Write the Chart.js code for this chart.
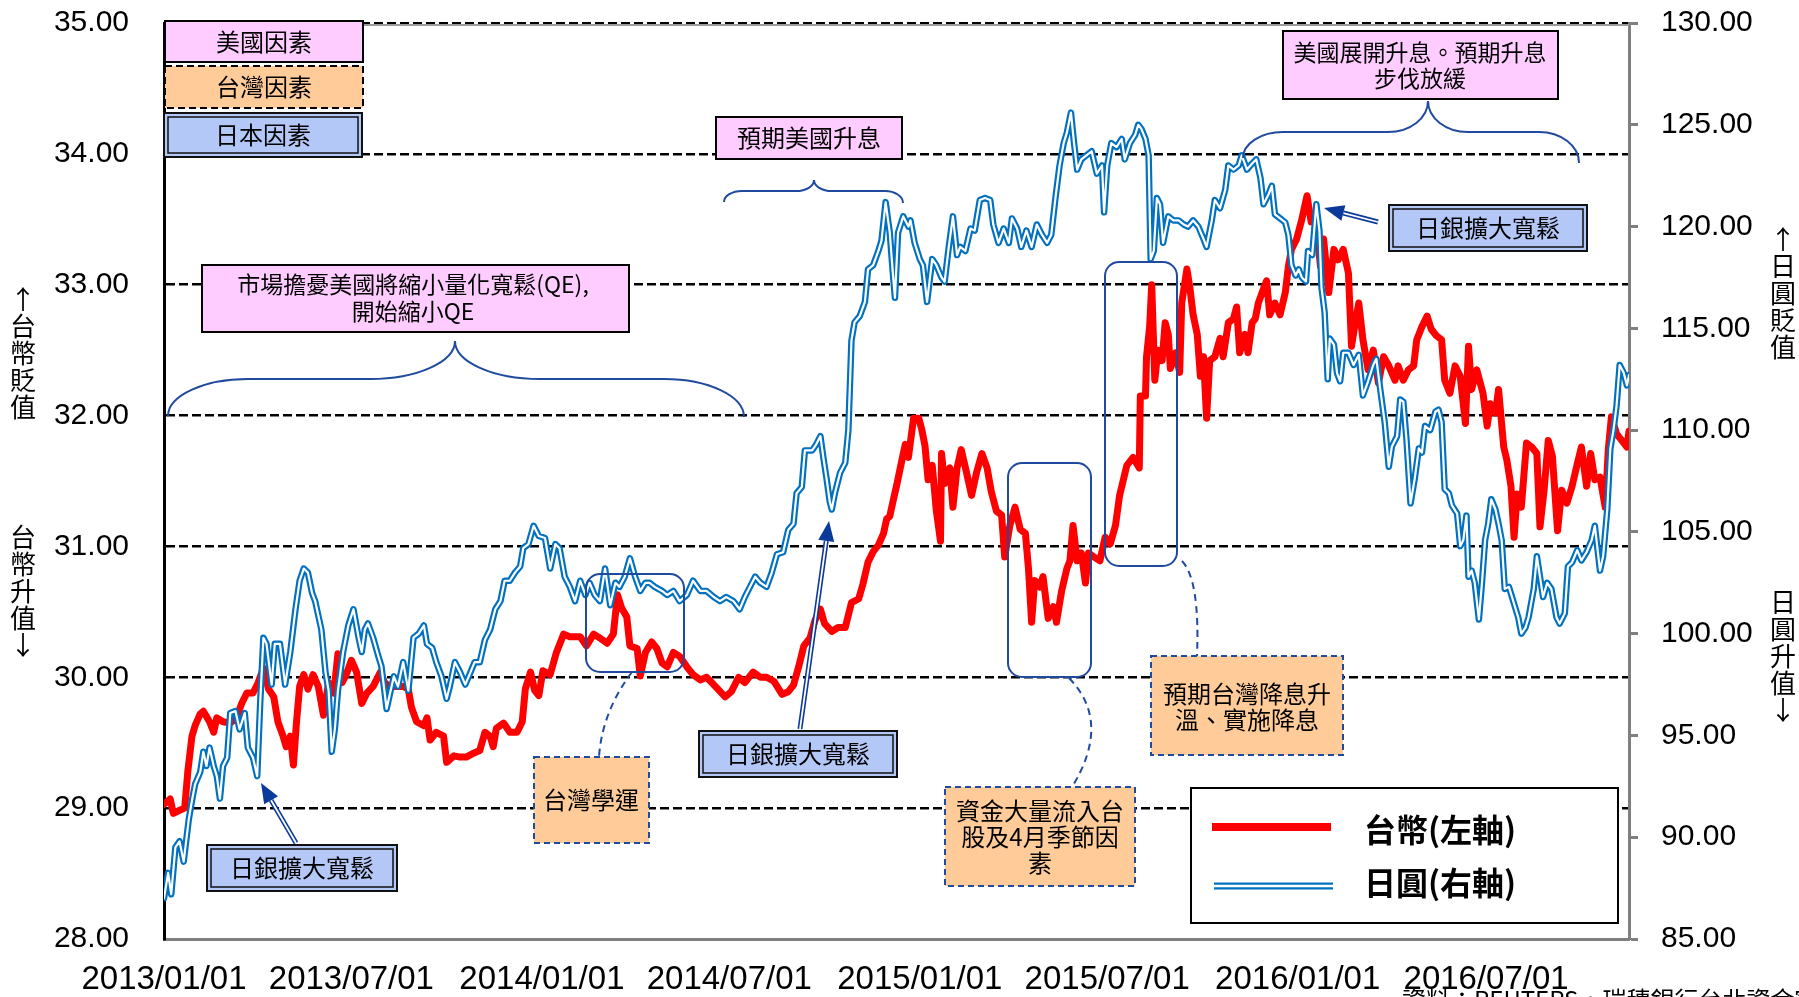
<!DOCTYPE html>
<html>
<head>
<meta charset="utf-8">
<title>台幣與日圓走勢</title>
<script src="https://cdn.jsdelivr.net/npm/chart.js@4.4.1/dist/chart.umd.min.js"></script>
<style>
  html, body { margin: 0; padding: 0; background: #fff; overflow: hidden; }
  canvas { display: block; }
</style>
</head>
<body>
<canvas id="fx" width="1799" height="997"></canvas>
<script>
// x values are days counted from 2013/01/01
const tickDates = ['2013/01/01', '2013/07/01', '2014/01/01', '2014/07/01',
                   '2015/01/01', '2015/07/01', '2016/01/01', '2016/07/01'];
const lastDay = 1415;

// 台幣 (left axis)
const twdDays = [
  0, 6, 9, 14, 20, 23, 27, 30, 35, 38,
  44, 48, 51, 57, 64, 70, 75, 80, 86, 91,
  96, 101, 106, 110, 115, 118, 122, 125, 128, 131,
  135, 139, 144, 149, 154, 159, 164, 168, 172, 176,
  181, 186, 191, 196, 202, 209, 213, 218, 225, 231,
  236, 239, 244, 251, 254, 257, 263, 270, 273, 280,
  286, 292, 299, 305, 310, 315, 318, 321, 328, 334,
  341, 346, 349, 354, 358, 362, 366, 373, 379, 386,
  392, 402, 408, 415, 421, 428, 434, 438, 442, 447,
  450, 457, 460, 465, 471, 476, 481, 486, 492, 498,
  505, 511, 518, 524, 529, 535, 542, 548, 555, 561,
  569, 576, 582, 589, 597, 603, 608, 613, 618, 624,
  629, 634, 638, 645, 651, 658, 664, 671, 675, 680,
  685, 690, 695, 698, 701, 704, 708, 713, 716, 719,
  724, 729, 732, 735, 738, 742, 746, 750, 751, 754,
  759, 762, 766, 770, 775, 780, 785, 790, 795, 799,
  804, 809, 812, 817, 822, 827, 832, 835, 838, 841,
  846, 849, 854, 859, 862, 867, 872, 875, 878, 882,
  886, 890, 893, 898, 904, 909, 914, 919, 923, 930,
  936, 942, 943, 948, 949, 952, 954, 957, 960, 964,
  967, 970, 972, 977, 981, 983, 988, 991, 994, 998,
  1001, 1004, 1007, 1010, 1015, 1020, 1023, 1028, 1033, 1036,
  1039, 1044, 1047, 1051, 1054, 1057, 1062, 1065, 1068, 1073,
  1078, 1083, 1086, 1089, 1094, 1099, 1104, 1108, 1112, 1117,
  1120, 1125, 1130, 1134, 1139, 1144, 1147, 1150, 1154, 1158,
  1163, 1168, 1173, 1178, 1183, 1189, 1192, 1197, 1202, 1207,
  1210, 1215, 1220, 1224, 1229, 1234, 1237, 1242, 1247, 1252,
  1257, 1260, 1263, 1268, 1274, 1278, 1281, 1286, 1289, 1294,
  1297, 1301, 1304, 1307, 1311, 1316, 1321, 1326, 1329, 1333,
  1337, 1341, 1346, 1350, 1355, 1360, 1365, 1369, 1374, 1378,
  1382, 1387, 1392, 1395, 1398, 1403, 1408, 1413, 1415
];
const twdRates = [
  29.03, 29.07, 28.96, 28.98, 29.00, 29.28, 29.55, 29.63, 29.72, 29.74,
  29.66, 29.58, 29.69, 29.66, 29.65, 29.69, 29.80, 29.88, 29.88, 29.96,
  30.07, 29.91, 29.85, 29.66, 29.55, 29.47, 29.55, 29.33, 29.66, 29.93,
  30.02, 29.91, 30.02, 29.93, 29.71, 29.96, 29.88, 30.18, 29.96, 30.02,
  30.13, 30.04, 29.80, 29.88, 29.93, 30.04, 29.96, 29.93, 29.93, 29.93,
  29.91, 29.77, 29.66, 29.63, 29.69, 29.52, 29.58, 29.55, 29.35, 29.40,
  29.39, 29.39, 29.42, 29.44, 29.58, 29.55, 29.47, 29.61, 29.65, 29.58,
  29.58, 29.66, 29.91, 30.04, 29.90, 29.86, 30.05, 30.02, 30.19, 30.33,
  30.31, 30.31, 30.24, 30.33, 30.30, 30.26, 30.33, 30.63, 30.53, 30.46,
  30.24, 30.22, 30.01, 30.19, 30.27, 30.22, 30.11, 30.08, 30.19, 30.16,
  30.08, 30.02, 29.98, 30.00, 29.96, 29.91, 29.85, 29.89, 30.00, 29.96,
  30.04, 30.00, 30.00, 29.97, 29.87, 29.89, 29.94, 30.08, 30.24, 30.30,
  30.44, 30.52, 30.41, 30.35, 30.38, 30.38, 30.57, 30.60, 30.71, 30.88,
  30.96, 31.01, 31.10, 31.21, 31.23, 31.34, 31.48, 31.67, 31.78, 31.68,
  31.98, 31.98, 31.89, 31.77, 31.51, 31.62, 31.27, 31.04, 31.71, 31.48,
  31.60, 31.30, 31.60, 31.74, 31.57, 31.39, 31.57, 31.71, 31.60, 31.42,
  31.27, 31.24, 30.92, 31.16, 31.30, 31.13, 31.10, 30.83, 30.42, 30.74,
  30.69, 30.77, 30.45, 30.54, 30.42, 30.66, 30.83, 30.89, 31.16, 30.89,
  30.95, 30.72, 30.95, 30.92, 30.89, 31.07, 31.02, 31.16, 31.39, 31.62,
  31.68, 31.60, 32.15, 32.15, 32.45, 32.68, 33.00, 32.27, 32.50, 32.42,
  32.71, 32.62, 32.36, 32.48, 32.33, 32.86, 33.12, 32.97, 32.77, 32.62,
  32.30, 32.45, 31.98, 32.42, 32.45, 32.59, 32.45, 32.71, 32.74, 32.83,
  32.48, 32.62, 32.48, 32.71, 32.74, 32.86, 32.97, 33.03, 32.77, 32.86,
  32.77, 32.94, 33.14, 33.27, 33.35, 33.50, 33.68, 33.48, 33.53, 33.14,
  33.35, 32.94, 33.27, 33.19, 33.27, 33.09, 32.53, 32.68, 32.86, 32.58,
  32.35, 32.50, 32.25, 32.45, 32.38, 32.27, 32.38, 32.27, 32.35, 32.38,
  32.58, 32.68, 32.76, 32.66, 32.61, 32.58, 32.27, 32.17, 32.38, 32.30,
  31.94, 32.53, 32.20, 32.35, 32.17, 31.92, 32.09, 32.02, 32.20, 31.76,
  31.66, 31.46, 31.07, 31.40, 31.30, 31.79, 31.76, 31.71, 31.15, 31.43,
  31.81, 31.69, 31.12, 31.43, 31.33, 31.46, 31.63, 31.76, 31.46, 31.71,
  31.51, 31.53, 31.30, 31.74, 31.99, 31.86, 31.81, 31.76, 31.88
];

// 日圓 (right axis)
const jpyDays = [
  0, 4, 7, 11, 15, 19, 24, 27, 30, 35,
  38, 41, 44, 48, 51, 54, 57, 61, 64, 69,
  73, 78, 81, 86, 90, 93, 96, 99, 104, 107,
  112, 117, 122, 127, 131, 135, 139, 143, 146, 149,
  152, 156, 159, 162, 165, 168, 173, 178, 183, 188,
  191, 194, 197, 202, 207, 210, 215, 218, 222, 226,
  231, 236, 241, 246, 251, 254, 259, 263, 268, 273,
  276, 281, 286, 291, 296, 300, 305, 310, 315, 320,
  325, 329, 334, 339, 344, 347, 352, 357, 362, 368,
  373, 378, 382, 387, 392, 397, 402, 407, 411, 416,
  421, 426, 431, 436, 440, 445, 450, 455, 460, 465,
  469, 474, 481, 486, 492, 498, 505, 511, 518, 524,
  531, 537, 543, 550, 556, 561, 566, 571, 576, 582,
  587, 592, 598, 603, 608, 611, 616, 619, 626, 630,
  634, 637, 640, 643, 645, 648, 653, 658, 661, 664,
  667, 672, 677, 680, 685, 690, 693, 697, 701, 704,
  706, 709, 714, 719, 721, 725, 730, 733, 737, 742,
  746, 751, 754, 758, 762, 766, 769, 774, 779, 783,
  788, 793, 798, 801, 806, 811, 816, 819, 824, 828,
  833, 838, 843, 848, 853, 857, 861, 865, 869, 872,
  876, 879, 882, 886, 891, 896, 901, 906, 908, 911,
  915, 920, 925, 928, 933, 938, 941, 944, 948, 951,
  953, 956, 959, 962, 965, 970, 975, 980, 985, 989,
  994, 999, 1004, 1007, 1012, 1015, 1020, 1025, 1028, 1033,
  1038, 1041, 1046, 1051, 1055, 1059, 1062, 1067, 1070, 1073,
  1078, 1083, 1086, 1089, 1093, 1096, 1099, 1103, 1105, 1109,
  1113, 1116, 1118, 1121, 1124, 1126, 1130, 1133, 1136, 1139,
  1144, 1149, 1154, 1158, 1163, 1168, 1171, 1175, 1179, 1183,
  1186, 1191, 1194, 1197, 1200, 1204, 1208, 1212, 1215, 1218,
  1223, 1228, 1231, 1234, 1237, 1241, 1244, 1249, 1252, 1255,
  1258, 1260, 1263, 1266, 1270, 1273, 1276, 1279, 1282, 1286,
  1289, 1292, 1295, 1299, 1302, 1305, 1308, 1311, 1315, 1318,
  1323, 1326, 1329, 1332, 1336, 1340, 1345, 1348, 1353, 1356,
  1360, 1365, 1369, 1374, 1379, 1382, 1387, 1390, 1394, 1397,
  1400, 1403, 1406, 1410, 1413, 1415
];
const jpyRates = [
  87.0, 88.25, 87.2, 89.5, 89.8, 88.8, 90.9, 91.8, 92.6, 93.2,
  94.2, 93.5, 94.4, 93.5, 93.0, 91.9, 93.5, 93.9, 96.1, 96.2,
  95.3, 96.1, 94.4, 93.9, 93.0, 96.7, 99.8, 99.5, 97.5, 99.5,
  99.5, 97.5, 99.1, 101.2, 102.6, 103.2, 103.0, 102.0, 101.6, 100.9,
  100.2, 98.1, 97.2, 94.2, 95.3, 97.2, 99.1, 100.4, 101.2, 99.8,
  99.1, 100.2, 100.5, 99.8, 98.9, 98.4, 96.3, 97.0, 97.9, 97.4,
  98.6, 97.2, 99.8, 100.0, 100.4, 99.5, 99.3, 98.6, 97.9, 96.8,
  97.4, 98.6, 98.1, 97.5, 98.1, 98.6, 98.6, 99.7, 100.2, 101.2,
  101.6, 102.6, 102.6, 103.0, 103.3, 104.2, 104.4, 105.3, 104.8, 104.7,
  103.2, 104.4, 104.2, 102.8, 102.3, 101.6, 102.6, 101.9, 102.5, 101.9,
  101.6, 103.2, 101.4, 102.5, 102.3, 102.8, 103.7, 102.8, 102.1, 102.5,
  102.5, 102.3, 102.1, 101.9, 102.1, 101.6, 101.9, 102.6, 102.1, 102.1,
  101.8, 101.6, 101.8, 101.6, 101.2, 101.8, 102.3, 102.8, 102.5, 102.3,
  103.0, 103.9, 104.0, 105.1, 105.4, 106.9, 107.2, 109.0, 109.0, 109.3,
  109.7, 108.6, 107.6, 106.5, 106.1, 106.9, 107.9, 108.4, 110.0, 114.4,
  115.3, 115.6, 116.3, 117.9, 118.1, 118.8, 119.3, 121.2, 119.7, 117.7,
  116.5, 119.7, 120.5, 120.0, 120.3, 119.2, 118.4, 118.1, 116.3, 118.4,
  118.1, 117.5, 117.3, 119.0, 120.5, 118.6, 119.0, 118.8, 119.9, 119.8,
  121.3, 121.4, 121.3, 120.1, 119.2, 119.9, 119.2, 120.4, 119.9, 119.0,
  119.8, 119.0, 120.1, 119.6, 119.2, 119.6, 121.4, 123.0, 124.1, 124.6,
  125.6, 124.1, 122.8, 123.3, 123.5, 123.7, 122.6, 123.0, 120.7, 123.0,
  124.1, 123.9, 124.3, 123.3, 124.1, 124.5, 125.0, 124.8, 124.3, 123.5,
  118.4, 118.8, 121.4, 121.1, 119.2, 120.5, 120.3, 120.3, 120.1, 120.0,
  120.3, 120.0, 119.4, 119.0, 120.3, 121.3, 120.9, 121.8, 123.0, 122.8,
  123.0, 123.5, 122.8, 123.1, 123.3, 122.4, 121.1, 121.6, 122.0, 120.6,
  120.4, 120.2, 119.6, 118.1, 117.6, 117.9, 117.5, 117.3, 118.8, 118.6,
  121.1, 119.8, 117.0, 115.8, 112.5, 114.5, 114.2, 112.8, 112.4, 113.8,
  113.8, 113.2, 113.7, 111.7, 112.4, 113.2, 113.5, 111.9, 110.4, 108.2,
  109.2, 109.7, 111.5, 111.4, 109.6, 106.4, 107.6, 109.1, 108.9, 110.2,
  110.0, 110.9, 111.0, 110.4, 107.1, 106.9, 106.3, 105.9, 104.3, 104.6,
  105.8, 102.8, 103.1, 102.5, 100.7, 102.5, 104.6, 105.4, 106.6, 106.1,
  105.4, 104.6, 102.2, 102.3, 101.8, 101.3, 100.8, 100.0, 100.3, 100.8,
  102.2, 103.8, 102.8, 101.8, 102.5, 102.2, 100.8, 100.5, 101.0, 103.3,
  103.5, 104.1, 103.6, 104.0, 104.6, 105.3, 103.1, 103.8, 106.1, 109.1,
  110.0, 111.2, 113.2, 112.8, 112.2, 112.7
];

const CJK = '"Noto Sans CJK TC", "Noto Sans CJK JP", sans-serif';
const NUM = '"Liberation Sans", Arial, sans-serif';
const NAVY = '#1F4A9E';
const PINK = '#FFCCFF', ORANGE = '#FFCC99', LIGHTBLUE = '#B4C8F8';

function dayOf(s) {
  const [y, m, d] = s.split('/').map(Number);
  return Math.round((Date.UTC(y, m - 1, d) - Date.UTC(2013, 0, 1)) / 86400000);
}
const tickDays = tickDates.map(dayOf);

const twdPoints = twdDays.map((d, i) => ({ x: d, y: twdRates[i] }));
const jpyPoints = jpyDays.map((d, i) => ({ x: d, y: jpyRates[i] }));

// annotations are laid out in reference pixels of the plot frame
// (left 164, top 23, 1465 x 916) and mapped onto the real chart area
const annotations = {
  id: 'annotations',
  beforeDatasetsDraw(chart) {
    const { ctx, chartArea: a } = chart;
    ctx.save();
    ctx.strokeStyle = '#9a9a9a';
    ctx.lineWidth = 2;
    ctx.beginPath();
    ctx.moveTo(a.left, a.top + 2);
    ctx.lineTo(a.right, a.top + 2);
    ctx.stroke();
    ctx.restore();
  },
  afterDatasetsDraw(chart) {
    const { ctx, chartArea: a } = chart;
    const X = px => a.left + (px - 164) * a.width / 1465;
    const Y = py => a.top + (py - 23) * a.height / 916;

    function box(x1, y1, x2, y2, fill, kind) {
      const l = X(x1), t = Y(y1), w = X(x2) - l, h = Y(y2) - t;
      ctx.save();
      ctx.fillStyle = fill;
      ctx.fillRect(l, t, w, h);
      ctx.lineWidth = 2;
      if (kind === 'solid') {
        ctx.strokeStyle = '#000';
        ctx.strokeRect(l, t, w, h);
      } else if (kind === 'dashBlack') {
        ctx.setLineDash([7, 4]);
        ctx.strokeStyle = '#000';
        ctx.strokeRect(l, t, w, h);
      } else if (kind === 'dashBlue') {
        ctx.setLineDash([6, 4]);
        ctx.strokeStyle = NAVY;
        ctx.strokeRect(l, t, w, h);
      } else if (kind === 'double') {
        ctx.strokeStyle = '#111';
        ctx.strokeRect(l, t, w, h);
        ctx.lineWidth = 1.5;
        ctx.strokeRect(l + 4, t + 4, w - 8, h - 8);
      }
      ctx.restore();
    }

    function words(lines, cx, cy, size, lh, bold) {
      ctx.save();
      ctx.font = (bold ? 'bold ' : '') + size + 'px ' + CJK;
      ctx.fillStyle = '#000';
      ctx.textAlign = 'center';
      ctx.textBaseline = 'middle';
      lines.forEach((t, i) => ctx.fillText(t, X(cx), Y(cy + (i - (lines.length - 1) / 2) * lh)));
      ctx.restore();
    }

    function brace(x1, yL, x2, yR, yF, xt, yT, rE, rT) {
      const k = 0.552;
      ctx.save();
      ctx.strokeStyle = NAVY;
      ctx.lineWidth = 2;
      ctx.beginPath();
      ctx.moveTo(X(x1), Y(yL));
      ctx.bezierCurveTo(X(x1), Y(yL - (yL - yF) * k), X(x1 + rE * (1 - k)), Y(yF), X(x1 + rE), Y(yF));
      ctx.lineTo(X(xt - rT), Y(yF));
      ctx.bezierCurveTo(X(xt - rT * (1 - k)), Y(yF), X(xt), Y(yT + (yF - yT) * k), X(xt), Y(yT));
      ctx.bezierCurveTo(X(xt), Y(yT + (yF - yT) * k), X(xt + rT * (1 - k)), Y(yF), X(xt + rT), Y(yF));
      ctx.lineTo(X(x2 - rE), Y(yF));
      ctx.bezierCurveTo(X(x2 - rE * (1 - k)), Y(yF), X(x2), Y(yR - (yR - yF) * k), X(x2), Y(yR));
      ctx.stroke();
      ctx.restore();
    }

    function roundBox(x1, y1, x2, y2, r) {
      const l = X(x1), t = Y(y1), rr = X(x2), b = Y(y2);
      ctx.save();
      ctx.strokeStyle = NAVY;
      ctx.lineWidth = 2;
      ctx.beginPath();
      ctx.moveTo(l + r, t);
      ctx.arcTo(rr, t, rr, b, r);
      ctx.arcTo(rr, b, l, b, r);
      ctx.arcTo(l, b, l, t, r);
      ctx.arcTo(l, t, rr, t, r);
      ctx.closePath();
      ctx.stroke();
      ctx.restore();
    }

    function leader(p0, p1, p2) {
      ctx.save();
      ctx.strokeStyle = NAVY;
      ctx.lineWidth = 2;
      ctx.setLineDash([7, 5]);
      ctx.beginPath();
      ctx.moveTo(X(p0[0]), Y(p0[1]));
      ctx.quadraticCurveTo(X(p1[0]), Y(p1[1]), X(p2[0]), Y(p2[1]));
      ctx.stroke();
      ctx.restore();
    }

    function arrow(x0, y0, x1, y1) {
      const sx = X(x0), sy = Y(y0), ex = X(x1), ey = Y(y1);
      const ang = Math.atan2(ey - sy, ex - sx);
      const head = 20, hw = 8;
      const bx = ex - Math.cos(ang) * head, by = ey - Math.sin(ang) * head;
      ctx.save();
      ctx.lineCap = 'butt';
      ctx.strokeStyle = '#0B3A9A';
      ctx.lineWidth = 5;
      ctx.beginPath(); ctx.moveTo(sx, sy); ctx.lineTo(bx, by); ctx.stroke();
      ctx.strokeStyle = '#fff';
      ctx.lineWidth = 1.8;
      ctx.beginPath(); ctx.moveTo(sx, sy); ctx.lineTo(bx, by); ctx.stroke();
      ctx.fillStyle = '#0B3A9A';
      ctx.beginPath();
      ctx.moveTo(ex, ey);
      ctx.lineTo(bx + Math.sin(ang) * hw, by - Math.cos(ang) * hw);
      ctx.lineTo(bx - Math.sin(ang) * hw, by + Math.cos(ang) * hw);
      ctx.closePath();
      ctx.fill();
      ctx.restore();
    }

    // highlighted periods
    roundBox(586, 574, 684, 672, 14);
    roundBox(1008, 463, 1091, 677, 14);
    roundBox(1105, 262, 1177, 566, 14);
    leader([632, 672], [602, 712], [599, 757]);
    leader([1069, 678], [1112, 722], [1072, 787]);
    leader([1182, 561], [1200, 580], [1197, 656]);

    // braces
    brace(168, 416, 744, 417, 379, 455, 341, 80, 85);
    brace(724, 202, 903, 203, 191, 814, 180, 18, 18);
    brace(1243, 158, 1579, 163, 132, 1428, 101, 40, 40);

    // factor key
    box(165, 21, 363, 62, PINK, 'solid');
    words(['美國因素'], 264, 42, 24, 0);
    box(165, 66, 363, 108, ORANGE, 'dashBlack');
    words(['台灣因素'], 264, 87, 24, 0);
    box(164, 113, 362, 157, LIGHTBLUE, 'double');
    words(['日本因素'], 263, 135, 24, 0);

    // US events
    box(202, 265, 629, 332, PINK, 'solid');
    words(['市場擔憂美國將縮小量化寬鬆(QE),', '開始縮小QE'], 413, 298, 23, 27);
    box(716, 117, 902, 159, PINK, 'solid');
    words(['預期美國升息'], 809, 138, 24, 0);
    box(1283, 31, 1558, 99, PINK, 'solid');
    words(['美國展開升息。預期升息', '步伐放緩'], 1420, 65, 23, 26);

    // Japan events
    arrow(296, 843, 261, 783);
    box(207, 845, 397, 891, LIGHTBLUE, 'double');
    words(['日銀擴大寬鬆'], 302, 868, 24, 0);
    arrow(800, 729, 829, 521);
    box(699, 731, 897, 777, LIGHTBLUE, 'double');
    words(['日銀擴大寬鬆'], 798, 754, 24, 0);
    arrow(1378, 222, 1324, 208);
    box(1389, 205, 1587, 251, LIGHTBLUE, 'double');
    words(['日銀擴大寬鬆'], 1488, 228, 24, 0);

    // Taiwan events
    box(534, 757, 649, 843, ORANGE, 'dashBlue');
    words(['台灣學運'], 591, 800, 24, 0);
    box(945, 787, 1135, 886, ORANGE, 'dashBlue');
    words(['資金大量流入台', '股及4月季節因', '素'], 1040, 837, 24, 26);
    box(1151, 656, 1343, 755, ORANGE, 'dashBlue');
    words(['預期台灣降息升', '溫、實施降息'], 1247, 707, 24, 26);

    // legend
    ctx.save();
    ctx.fillStyle = '#fff';
    ctx.fillRect(X(1191), Y(788), X(1618) - X(1191), Y(923) - Y(788));
    ctx.strokeStyle = '#000';
    ctx.lineWidth = 2;
    ctx.strokeRect(X(1191), Y(788), X(1618) - X(1191), Y(923) - Y(788));
    ctx.lineCap = 'butt';
    ctx.strokeStyle = '#FF0000';
    ctx.lineWidth = 8;
    ctx.beginPath(); ctx.moveTo(X(1212), Y(827)); ctx.lineTo(X(1331), Y(827)); ctx.stroke();
    ctx.strokeStyle = '#0070C0';
    ctx.lineWidth = 7;
    ctx.beginPath(); ctx.moveTo(X(1214), Y(886)); ctx.lineTo(X(1333), Y(886)); ctx.stroke();
    ctx.strokeStyle = '#fff';
    ctx.lineWidth = 2.5;
    ctx.beginPath(); ctx.moveTo(X(1214), Y(886)); ctx.lineTo(X(1333), Y(886)); ctx.stroke();
    ctx.font = 'bold 32px ' + CJK;
    ctx.fillStyle = '#000';
    ctx.textAlign = 'left';
    ctx.textBaseline = 'middle';
    ctx.fillText('台幣(左軸)', X(1364), Y(830));
    ctx.fillText('日圓(右軸)', X(1364), Y(883));
    ctx.restore();
  },
  afterDraw(chart) {
    const { ctx } = chart;
    ctx.save();
    ctx.font = '26px ' + CJK;
    ctx.fillStyle = '#000';
    ctx.textAlign = 'center';
    ctx.textBaseline = 'middle';
    const column = (chars, x, y0, step) =>
      chars.forEach((c, i) => ctx.fillText(c, x, y0 + i * step));
    column(['↑', '台', '幣', '貶', '值'], 23, 299, 27);
    column(['台', '幣', '升', '值', '↓'], 23, 537, 27);
    column(['↑', '日', '圓', '貶', '值'], 1783, 239, 27);
    column(['日', '圓', '升', '值', '↓'], 1783, 602, 27);
    ctx.font = '24px ' + CJK;
    ctx.textAlign = 'left';
    ctx.textBaseline = 'top';
    ctx.fillText('資料：REUTERS，瑞穗銀行台北資金室', 1402, 988);
    ctx.restore();
  }
};

// keep the tick-label overhang from pushing the plot area down
function fixVertical(width) {
  return s => {
    s.width = width;
    s.paddingTop = 0;
    s.paddingBottom = 0;
  };
}

new Chart(document.getElementById('fx'), {
  type: 'line',
  data: {
    datasets: [
      { label: '日圓(右軸)', data: jpyPoints, yAxisID: 'y1', borderColor: '#ffffff', borderWidth: 2.2, order: 0 },
      { label: '日圓(右軸)', data: jpyPoints, yAxisID: 'y1', borderColor: '#0070C0', borderWidth: 6.5, order: 1 },
      { label: '台幣(左軸)', data: twdPoints, yAxisID: 'y', borderColor: '#FF0000', borderWidth: 7, order: 2 }
    ]
  },
  options: {
    responsive: false,
    animation: false,
    devicePixelRatio: 1,
    layout: { padding: { top: 23, left: 0, right: 0, bottom: 0 } },
    elements: {
      point: { radius: 0 },
      line: { tension: 0, borderJoinStyle: 'round', borderCapStyle: 'round', fill: false }
    },
    plugins: { legend: { display: false }, tooltip: { enabled: false } },
    scales: {
      x: {
        type: 'linear',
        position: 'bottom',
        min: 0,
        max: lastDay,
        grid: { display: false, drawTicks: false },
        border: { display: true, color: '#808080', width: 3 },
        afterBuildTicks: s => { s.ticks = tickDays.map(v => ({ value: v })); },
        afterFit: s => { s.height = 58; s.paddingLeft = 0; s.paddingRight = 0; },
        ticks: {
          autoSkip: false,
          maxRotation: 0,
          padding: 21,
          color: '#000',
          font: { family: NUM, size: 33 },
          callback: v => tickDates[tickDays.indexOf(v)]
        }
      },
      y: {
        position: 'left',
        min: 28,
        max: 35,
        afterFit: fixVertical(164),
        grid: {
          drawTicks: false,
          lineWidth: 2.5,
          color: c => (c.tick && c.tick.value === 28) ? 'rgba(0,0,0,0)' : '#000'
        },
        border: { display: true, color: '#000', width: 3, dash: [9, 4] },
        ticks: {
          stepSize: 1,
          padding: 35,
          color: '#000',
          font: { family: NUM, size: 30 },
          callback: v => v.toFixed(2)
        }
      },
      y1: {
        position: 'right',
        min: 85,
        max: 130,
        afterFit: fixVertical(170),
        grid: { drawOnChartArea: false, drawTicks: true, tickLength: 9, tickColor: '#808080', tickWidth: 3 },
        border: { display: true, color: '#808080', width: 3 },
        ticks: {
          stepSize: 5,
          padding: 23,
          color: '#000',
          font: { family: NUM, size: 30 },
          callback: v => v.toFixed(2)
        }
      }
    }
  },
  plugins: [annotations]
});
</script>
</body>
</html>
